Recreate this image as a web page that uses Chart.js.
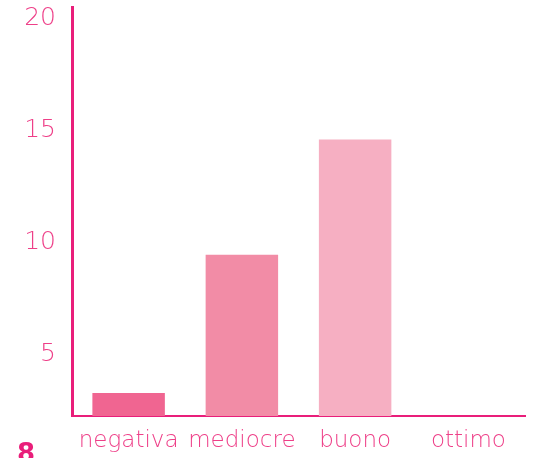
<!DOCTYPE html>
<html>
<head>
<meta charset="utf-8">
<script src="https://cdn.jsdelivr.net/npm/chart.js@4/dist/chart.umd.min.js"></script>
<style>
  html, body { margin: 0; padding: 0; background: #fff; }
  #wrap { position: relative; width: 533px; height: 458px; overflow: hidden; }
  #mark { position: absolute; left: 17px; top: 438px; font: bold 26px "DejaVu Sans", sans-serif; color: #e91e7a; }
</style>
</head>
<body>
<div id="wrap">
  <canvas id="chart" width="533" height="458"></canvas>
  <div id="mark">8</div>
</div>
<script>
// data
const categories = ['negativa', 'mediocre', 'buono', 'ottimo'];
const values = [3.3, 9.46, 14.6, 0];
const barColors = ['#f06591', '#f28ca6', '#f6afc2', '#f6afc2'];
const yTicks = [5, 10, 15, 20];

const pink = '#e91e7a';
const labelPink = '#ee3f88';

const ctx = document.getElementById('chart').getContext('2d');
new Chart(ctx, {
    type: 'bar',
    data: {
        labels: categories,
        datasets: [{
            data: values,
            backgroundColor: barColors,
            borderWidth: 0,
            barPercentage: 0.64,
            categoryPercentage: 1
        }]
    },
    options: {
        responsive: false,
        animation: false,
        layout: { padding: { top: 7, right: 8, left: 0, bottom: 0 } },
        plugins: { legend: { display: false }, tooltip: { enabled: false } },
        scales: {
            x: {
                grid: { display: false, drawTicks: false },
                border: { display: true, color: pink, width: 2 },
                ticks: {
                    color: labelPink,
                    padding: 11,
                    maxRotation: 0,
                    minRotation: 0,
                    autoSkip: false,
                    font: { family: 'DejaVu Sans', size: 23, weight: '200' }
                },
                afterFit: scale => { scale.height = 42; }
            },
            y: {
                min: 2.28,
                max: 20.5,
                grid: { display: false, drawTicks: false },
                border: { display: true, color: pink, width: 3 },
                afterBuildTicks: scale => {
                    scale.ticks = yTicks.map(v => ({ value: v }));
                },
                ticks: {
                    color: labelPink,
                    padding: 16,
                    font: { family: 'DejaVu Sans', size: 25, weight: '200' }
                },
                afterFit: scale => {
                    scale.width = 72;
                    scale.paddingTop = 0;
                    scale.paddingBottom = 0;
                }
            }
        }
    }
});
</script>
</body>
</html>
